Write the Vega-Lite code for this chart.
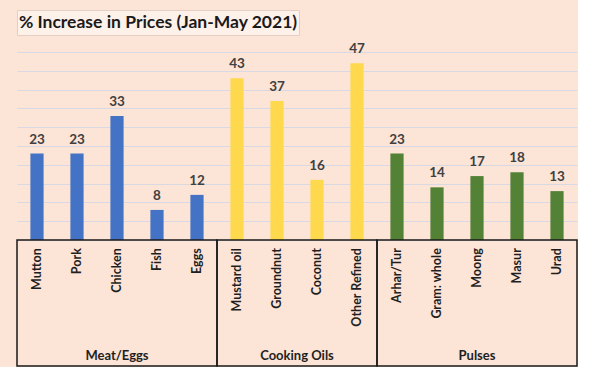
{
  "$schema": "https://vega.github.io/schema/vega-lite/v6.json",
  "background": "#FCE4D6",
  "padding": {"left": 16, "top": 9, "right": 0, "bottom": 0},
  "config": {"font": "Lato", "view": {"stroke": null}},
  "datasets": {
    "prices": [
      {"item": "Mutton", "group": "Meat/Eggs", "pct": 23},
      {"item": "Pork", "group": "Meat/Eggs", "pct": 23},
      {"item": "Chicken", "group": "Meat/Eggs", "pct": 33},
      {"item": "Fish", "group": "Meat/Eggs", "pct": 8},
      {"item": "Eggs", "group": "Meat/Eggs", "pct": 12},
      {"item": "Mustard oil", "group": "Cooking Oils", "pct": 43},
      {"item": "Groundnut", "group": "Cooking Oils", "pct": 37},
      {"item": "Coconut", "group": "Cooking Oils", "pct": 16},
      {"item": "Other Refined", "group": "Cooking Oils", "pct": 47},
      {"item": "Arhar/Tur", "group": "Pulses", "pct": 23},
      {"item": "Gram: whole", "group": "Pulses", "pct": 14},
      {"item": "Moong", "group": "Pulses", "pct": 17},
      {"item": "Masur", "group": "Pulses", "pct": 18},
      {"item": "Urad", "group": "Pulses", "pct": 13}
    ],
    "heading": [{"t": "% Increase in Prices (Jan-May 2021)"}]
  },
  "bounds": "flush",
  "spacing": 17,
  "vconcat": [
    {
      "data": {"name": "heading"},
      "width": 282,
      "height": 25,
      "view": {"fill": "#FEF1EA", "stroke": "#E3CFC4", "strokeWidth": 1},
      "mark": {"type": "text", "fontSize": 17.5, "fontWeight": "bold", "color": "#1a1a1a", "baseline": "middle"},
      "encoding": {"text": {"field": "t"}}
    },
    {
      "spacing": 0,
      "bounds": "flush",
      "vconcat": [
        {
          "data": {"name": "prices"},
          "width": 560,
          "height": 188,
          "encoding": {
            "x": {"field": "item", "type": "nominal", "sort": null, "axis": null,
                  "scale": {"paddingInner": 0, "paddingOuter": 0}},
            "y": {"field": "pct", "type": "quantitative",
                  "scale": {"domain": [0, 50]},
                  "axis": {"values": [0, 5, 10, 15, 20, 25, 30, 35, 40, 45, 50], "grid": true, "labels": false,
                           "ticks": false, "domain": false, "title": null, "gridColor": "#D8D9E2", "gridWidth": 1}}
          },
          "layer": [
            {
              "mark": {"type": "bar", "width": {"band": 0.33}},
              "encoding": {
                "color": {"field": "group", "type": "nominal", "legend": null,
                          "scale": {"domain": ["Meat/Eggs", "Cooking Oils", "Pulses"],
                                    "range": ["#4472C4", "#FFD94D", "#538135"]}}
              }
            },
            {
              "mark": {"type": "text", "baseline": "bottom", "dy": -7, "fontSize": 13.5, "fontWeight": "bold", "color": "#404040"},
              "encoding": {"text": {"field": "pct", "type": "quantitative"}}
            }
          ]
        },
        {
          "spacing": 0,
          "bounds": "flush",
          "resolve": {"scale": {"x": "independent", "y": "independent"}},
          "hconcat": [
            {
              "data": {"name": "prices"},
              "transform": [{"filter": "datum.group === 'Meat/Eggs'"}],
              "width": 200,
              "height": 126,
              "view": {"stroke": "#1a1a1a", "strokeWidth": 1.5},
              "layer": [
                {
                  "mark": {"type": "text", "angle": 270, "align": "right", "baseline": "middle",
                           "fontSize": 12.5, "fontWeight": "bold", "color": "#1f1f1f"},
                  "encoding": {
                    "x": {"field": "item", "type": "nominal", "sort": null, "axis": null,
                          "scale": {"paddingInner": 0, "paddingOuter": 0}},
                    "y": {"field": "group", "type": "nominal", "axis": null, "bandPosition": 0.065,
                          "scale": {"type": "band", "paddingInner": 0, "paddingOuter": 0}},
                    "text": {"field": "item"}
                  }
                },
                {
                  "transform": [{"aggregate": [{"op": "count", "as": "n"}], "groupby": ["group"]}],
                  "mark": {"type": "text", "baseline": "bottom", "fontSize": 13, "fontWeight": "bold", "color": "#1f1f1f"},
                  "encoding": {
                    "y": {"field": "group", "type": "nominal", "axis": null, "bandPosition": 0.975,
                          "scale": {"type": "band", "paddingInner": 0, "paddingOuter": 0}},
                    "text": {"field": "group"}
                  }
                }
              ]
            },
            {
              "data": {"name": "prices"},
              "transform": [{"filter": "datum.group === 'Cooking Oils'"}],
              "width": 160,
              "height": 126,
              "view": {"stroke": "#1a1a1a", "strokeWidth": 1.5},
              "layer": [
                {
                  "mark": {"type": "text", "angle": 270, "align": "right", "baseline": "middle",
                           "fontSize": 12.5, "fontWeight": "bold", "color": "#1f1f1f"},
                  "encoding": {
                    "x": {"field": "item", "type": "nominal", "sort": null, "axis": null,
                          "scale": {"paddingInner": 0, "paddingOuter": 0}},
                    "y": {"field": "group", "type": "nominal", "axis": null, "bandPosition": 0.065,
                          "scale": {"type": "band", "paddingInner": 0, "paddingOuter": 0}},
                    "text": {"field": "item"}
                  }
                },
                {
                  "transform": [{"aggregate": [{"op": "count", "as": "n"}], "groupby": ["group"]}],
                  "mark": {"type": "text", "baseline": "bottom", "fontSize": 13, "fontWeight": "bold", "color": "#1f1f1f"},
                  "encoding": {
                    "y": {"field": "group", "type": "nominal", "axis": null, "bandPosition": 0.975,
                          "scale": {"type": "band", "paddingInner": 0, "paddingOuter": 0}},
                    "text": {"field": "group"}
                  }
                }
              ]
            },
            {
              "data": {"name": "prices"},
              "transform": [{"filter": "datum.group === 'Pulses'"}],
              "width": 200,
              "height": 126,
              "view": {"stroke": "#1a1a1a", "strokeWidth": 1.5},
              "layer": [
                {
                  "mark": {"type": "text", "angle": 270, "align": "right", "baseline": "middle",
                           "fontSize": 12.5, "fontWeight": "bold", "color": "#1f1f1f"},
                  "encoding": {
                    "x": {"field": "item", "type": "nominal", "sort": null, "axis": null,
                          "scale": {"paddingInner": 0, "paddingOuter": 0}},
                    "y": {"field": "group", "type": "nominal", "axis": null, "bandPosition": 0.065,
                          "scale": {"type": "band", "paddingInner": 0, "paddingOuter": 0}},
                    "text": {"field": "item"}
                  }
                },
                {
                  "transform": [{"aggregate": [{"op": "count", "as": "n"}], "groupby": ["group"]}],
                  "mark": {"type": "text", "baseline": "bottom", "fontSize": 13, "fontWeight": "bold", "color": "#1f1f1f"},
                  "encoding": {
                    "y": {"field": "group", "type": "nominal", "axis": null, "bandPosition": 0.975,
                          "scale": {"type": "band", "paddingInner": 0, "paddingOuter": 0}},
                    "text": {"field": "group"}
                  }
                }
              ]
            }
          ]
        }
      ]
    }
  ]
}
